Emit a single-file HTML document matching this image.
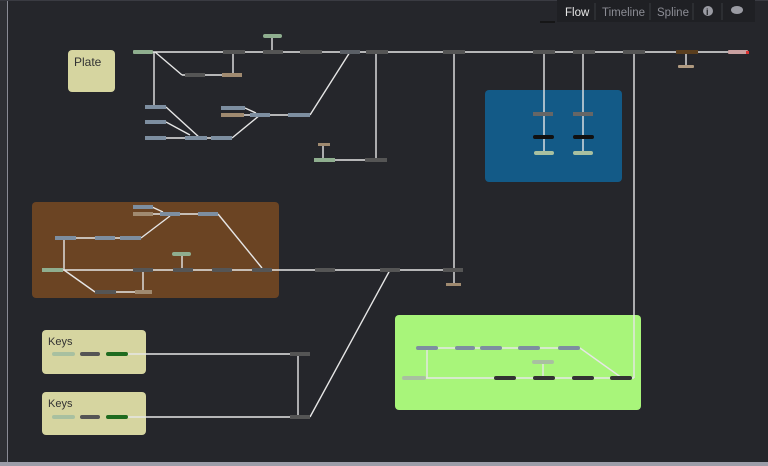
<!DOCTYPE html>
<html><head><meta charset="utf-8"><style>
html,body{margin:0;padding:0;background:#25262b;}
svg{display:block;}
</style></head><body>
<svg width="768" height="466" viewBox="0 0 768 466" xmlns="http://www.w3.org/2000/svg" font-family="Liberation Sans, sans-serif">
<rect width="768" height="466" fill="#25262b"/>
<rect x="0" y="0" width="7" height="466" fill="#2e2f34"/>
<line x1="7.5" y1="0" x2="7.5" y2="462" stroke="#8a8b95" stroke-width="1"/>
<rect x="0" y="462" width="768" height="4" fill="#9c9da8"/>
<line x1="0" y1="0.5" x2="768" y2="0.5" stroke="#3a3b42"/>
<!-- tabs -->
<rect x="557" y="0" width="198" height="22" fill="#1f2024"/>
<text x="565" y="16" font-size="11.5" fill="#e8e8e8">Flow</text>
<line x1="595" y1="3" x2="595" y2="20" stroke="#3a3b40"/>
<text x="602" y="16" font-size="11.5" fill="#8c8d95">Timeline</text>
<line x1="650" y1="3" x2="650" y2="20" stroke="#3a3b40"/>
<text x="657" y="16" font-size="11.5" fill="#8c8d95">Spline</text>
<line x1="693" y1="3" x2="693" y2="20" stroke="#3a3b40"/>
<circle cx="708" cy="11" r="5" fill="#9a9ba3"/>
<text x="706" y="15" font-size="9" font-weight="bold" fill="#1f2024">i</text>
<line x1="722" y1="3" x2="722" y2="20" stroke="#3a3b40"/>
<ellipse cx="737" cy="10" rx="6" ry="4" fill="#9a9ba3"/>
<line x1="540" y1="22" x2="555" y2="22" stroke="#111" stroke-width="1.5"/>

<!-- groups -->
<rect x="68" y="50" width="47" height="42" rx="4" fill="#d6d5a0"/>
<text x="74" y="66" font-size="12" fill="#333">Plate</text>
<rect x="485" y="90" width="137" height="92" rx="4" fill="#135a87"/>
<rect x="32" y="202" width="247" height="96" rx="4" fill="#6b4423"/>
<rect x="42" y="330" width="104" height="44" rx="4" fill="#d6d5a0"/>
<text x="48" y="345" font-size="11" fill="#333">Keys</text>
<rect x="42" y="392" width="104" height="43" rx="4" fill="#d6d5a0"/>
<text x="48" y="407" font-size="11" fill="#333">Keys</text>
<rect x="395" y="315" width="246" height="95" rx="4" fill="#a8f57a"/>

<!-- connectors -->
<g stroke="#e6e6e6" stroke-width="1.4" fill="none">
<line x1="153" y1="52" x2="748" y2="52"/>
<line x1="154" y1="52" x2="154" y2="107"/>
<line x1="155" y1="52" x2="182" y2="75"/>
<line x1="182" y1="75" x2="242" y2="75"/>
<line x1="233" y1="52" x2="233" y2="75"/>
<line x1="272" y1="36" x2="272" y2="52"/>
<line x1="686" y1="52" x2="686" y2="67"/>
<line x1="166" y1="107" x2="200" y2="138"/>
<line x1="166" y1="122" x2="190" y2="135"/>
<line x1="145" y1="138" x2="232" y2="138"/>
<line x1="232" y1="138" x2="260" y2="115"/>
<line x1="245" y1="108" x2="256" y2="113"/>
<line x1="221" y1="115" x2="310" y2="115"/>
<line x1="310" y1="115" x2="350" y2="52"/>
<line x1="376" y1="52" x2="376" y2="160"/>
<line x1="314" y1="160" x2="387" y2="160"/>
<line x1="323" y1="145" x2="323" y2="160"/>
<line x1="454" y1="52" x2="454" y2="285"/>
<line x1="544" y1="52" x2="544" y2="153"/>
<line x1="583" y1="52" x2="583" y2="153"/>
<line x1="634" y1="52" x2="634" y2="378"/>
<line x1="152" y1="207" x2="163" y2="212"/>
<line x1="133" y1="214" x2="218" y2="214"/>
<line x1="218" y1="214" x2="262" y2="268"/>
<line x1="55" y1="238" x2="141" y2="238"/>
<line x1="141" y1="238" x2="170" y2="216"/>
<line x1="64" y1="238" x2="64" y2="270"/>
<line x1="42" y1="270" x2="463" y2="270"/>
<line x1="182" y1="254" x2="182" y2="270"/>
<line x1="64" y1="270" x2="95" y2="292"/>
<line x1="95" y1="292" x2="152" y2="292"/>
<line x1="143" y1="270" x2="143" y2="292"/>
<line x1="390" y1="270" x2="310" y2="417"/>
<line x1="128" y1="354" x2="305" y2="354"/>
<line x1="128" y1="417" x2="310" y2="417"/>
<line x1="298" y1="354" x2="298" y2="417"/>
<line x1="416" y1="348" x2="580" y2="348"/>
<line x1="580" y1="348" x2="622" y2="378"/>
<line x1="402" y1="378" x2="634" y2="378"/>
<line x1="427" y1="348" x2="427" y2="378"/>
<line x1="543" y1="362" x2="543" y2="378"/>
</g>

<!-- nodes -->
<g>
<rect x="133" y="50" width="20" height="4" rx="1" fill="#8fae8f"/>
<rect x="223" y="50" width="22" height="4" fill="#555"/>
<rect x="263" y="50" width="20" height="4" fill="#555"/>
<rect x="263" y="34" width="19" height="4" rx="2" fill="#8fae8f"/>
<rect x="300" y="50" width="22" height="4" fill="#555"/>
<rect x="340" y="50" width="20" height="4" fill="#5a5f66"/>
<rect x="366" y="50" width="22" height="4" fill="#555"/>
<rect x="443" y="50" width="22" height="4" fill="#555"/>
<rect x="533" y="50" width="22" height="4" fill="#555"/>
<rect x="573" y="50" width="22" height="4" fill="#555"/>
<rect x="623" y="50" width="22" height="4" fill="#555"/>
<rect x="676" y="50" width="22" height="4" fill="#5a3e1e"/>
<rect x="728" y="50" width="20" height="4" rx="1" fill="#c9a0a0"/>
<rect x="746" y="51" width="3" height="3" fill="#d33"/>
<rect x="678" y="65" width="16" height="3" rx="1" fill="#b09a80"/>
<rect x="185" y="73" width="20" height="4" fill="#555"/>
<rect x="222" y="73" width="20" height="4" fill="#a08a70"/>
<rect x="145" y="105" width="21" height="4" fill="#7d8ea0"/>
<rect x="145" y="120" width="21" height="4" fill="#7d8ea0"/>
<rect x="145" y="136" width="21" height="4" fill="#7d8ea0"/>
<rect x="185" y="136" width="22" height="4" fill="#7d8ea0"/>
<rect x="211" y="136" width="21" height="4" fill="#7d8ea0"/>
<rect x="221" y="106" width="24" height="4" fill="#7d8ea0"/>
<rect x="221" y="113" width="23" height="4" fill="#a08a70"/>
<rect x="250" y="113" width="20" height="4" fill="#7d8ea0"/>
<rect x="288" y="113" width="22" height="4" fill="#7d8ea0"/>
<rect x="318" y="143" width="12" height="3" fill="#a08a70"/>
<rect x="314" y="158" width="21" height="4" fill="#8fae8f"/>
<rect x="365" y="158" width="22" height="4" fill="#555"/>
<rect x="533" y="112" width="20" height="4" fill="#666"/>
<rect x="573" y="112" width="20" height="4" fill="#666"/>
<rect x="533" y="135" width="21" height="4" rx="2" fill="#111"/>
<rect x="573" y="135" width="21" height="4" rx="2" fill="#111"/>
<rect x="534" y="151" width="20" height="4" rx="2" fill="#a8c0a0"/>
<rect x="573" y="151" width="20" height="4" rx="2" fill="#a8c0a0"/>
<rect x="133" y="205" width="20" height="4" fill="#7d8ea0"/>
<rect x="133" y="212" width="20" height="4" fill="#a08a70"/>
<rect x="160" y="212" width="20" height="4" fill="#7d8ea0"/>
<rect x="198" y="212" width="20" height="4" fill="#7d8ea0"/>
<rect x="55" y="236" width="21" height="4" fill="#7d8ea0"/>
<rect x="95" y="236" width="20" height="4" fill="#7d8ea0"/>
<rect x="120" y="236" width="21" height="4" fill="#7d8ea0"/>
<rect x="42" y="268" width="21" height="4" fill="#8fae8f"/>
<rect x="172" y="252" width="19" height="4" rx="2" fill="#8fae8f"/>
<rect x="133" y="268" width="20" height="4" fill="#555"/>
<rect x="173" y="268" width="20" height="4" fill="#555"/>
<rect x="212" y="268" width="20" height="4" fill="#555"/>
<rect x="252" y="268" width="20" height="4" fill="#555"/>
<rect x="315" y="268" width="20" height="4" fill="#555"/>
<rect x="380" y="268" width="20" height="4" fill="#555"/>
<rect x="443" y="268" width="20" height="4" fill="#555"/>
<rect x="446" y="283" width="15" height="3" fill="#a08a70"/>
<rect x="95" y="290" width="21" height="4" fill="#555"/>
<rect x="135" y="290" width="17" height="4" fill="#a08a70"/>
<rect x="52" y="352" width="23" height="4" rx="2" fill="#a8c0a0"/>
<rect x="80" y="352" width="20" height="4" rx="2" fill="#555"/>
<rect x="106" y="352" width="22" height="4" rx="2" fill="#1f6b1f"/>
<rect x="52" y="415" width="23" height="4" rx="2" fill="#a8c0a0"/>
<rect x="80" y="415" width="20" height="4" rx="2" fill="#555"/>
<rect x="106" y="415" width="22" height="4" rx="2" fill="#1f6b1f"/>
<rect x="290" y="352" width="20" height="4" fill="#555"/>
<rect x="290" y="415" width="20" height="4" fill="#555"/>
<rect x="416" y="346" width="22" height="4" rx="2" fill="#7d8ea0"/>
<rect x="455" y="346" width="20" height="4" rx="2" fill="#7d8ea0"/>
<rect x="480" y="346" width="22" height="4" rx="2" fill="#7d8ea0"/>
<rect x="518" y="346" width="22" height="4" rx="2" fill="#7d8ea0"/>
<rect x="558" y="346" width="22" height="4" rx="2" fill="#7d8ea0"/>
<rect x="532" y="360" width="22" height="4" rx="2" fill="#a8c0a0"/>
<rect x="402" y="376" width="24" height="4" rx="2" fill="#a8c0a0"/>
<rect x="494" y="376" width="22" height="4" rx="2" fill="#333"/>
<rect x="533" y="376" width="22" height="4" rx="2" fill="#333"/>
<rect x="572" y="376" width="22" height="4" rx="2" fill="#333"/>
<rect x="610" y="376" width="22" height="4" rx="2" fill="#333"/>
</g>
</svg>
</body></html>
